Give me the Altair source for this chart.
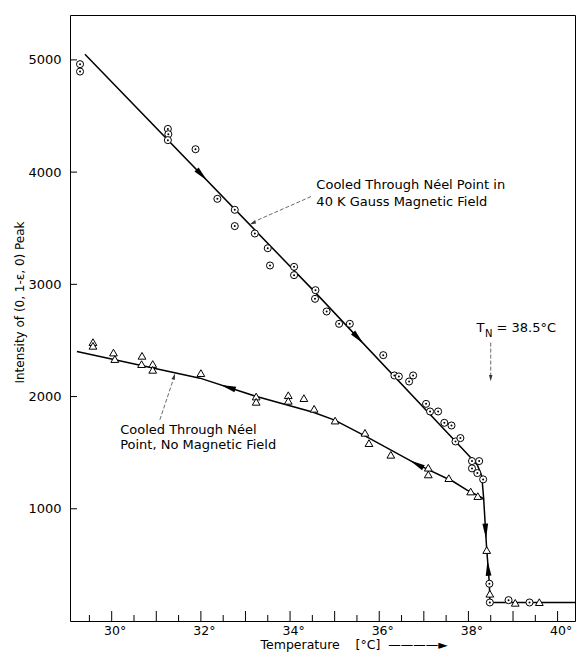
import altair as alt
import pandas as pd

# ---- data ----
# cooled through Neel point in 40 kG field (circles with dot)
field_T = [29.29, 29.29, 31.26, 31.27, 31.26, 31.88, 32.37, 32.76, 32.76, 33.21,
           33.50, 33.55, 34.09, 34.09, 34.57, 34.56, 34.82, 35.10, 35.34, 36.09,
           36.34, 36.44, 36.76, 36.67, 37.05, 37.14, 37.32, 37.46, 37.62, 37.71,
           37.82, 38.08, 38.24, 38.08, 38.20, 38.33, 38.47, 38.48, 38.90, 39.37]
field_I = [4962, 4896, 4385, 4338, 4285, 4204, 3762, 3664, 3519, 3453,
           3322, 3168, 3156, 3082, 2948, 2871, 2758, 2648, 2648, 2369,
           2188, 2179, 2188, 2134, 1935, 1867, 1867, 1766, 1742, 1600,
           1630, 1425, 1425, 1360, 1318, 1262, 332, 165, 186, 165]

# cooled through Neel point, no field (triangles)
zero_T = [29.58, 29.58, 30.04, 30.07, 30.68, 30.67, 30.92, 30.92, 32.00, 33.24,
          33.24, 33.96, 33.96, 34.31, 34.54, 35.01, 35.68, 35.77, 36.26, 37.10,
          37.10, 37.56, 38.05, 38.21, 38.41, 38.48, 39.05, 39.59]
zero_I = [2485, 2452, 2392, 2334, 2363, 2289, 2290, 2238, 2209, 2000,
          1953, 2012, 1962, 1986, 1891, 1786, 1677, 1585, 1481, 1366,
          1306, 1273, 1154, 1113, 632, 243, 162, 168]

# drawn curves
field_curve_T = [29.40, 34.50, 37.95, 38.20, 38.30, 38.34, 38.41, 38.47, 38.48, 40.39]
field_curve_I = [5050, 2955, 1500, 1390, 1290, 1100, 640, 332, 165, 165]
zero_curve_T = [29.22, 31.98, 33.25, 34.52, 35.00, 35.70, 36.84, 37.66, 37.96, 38.30, 38.345]
zero_curve_I = [2401, 2164, 2000, 1860, 1790, 1645, 1398, 1243, 1169, 1100, 1080]

# direction arrowheads on the curves
arrow_T = [32.02, 35.53, 38.386, 32.61, 36.84, 38.44]
arrow_I = [3974, 2521, 800, 2083, 1398, 470]
arrow_angle = [46, 47, 87, 198, 208, 266]

# annotation leaders
leader_id = [1, 1, 2, 2, 3, 3]
leader_T = [34.47, 33.20, 31.08, 31.38, 38.50, 38.50]
leader_I = [3782, 3560, 1793, 2150, 2481, 2190]
leader_tip_T = [33.16, 31.40, 38.50]
leader_tip_I = [3545, 2179, 2165]
leader_tip_angle = [155, 288, 90]

# annotation texts
note_text = ["Cooled Through Néel Point in", "40 K Gauss Magnetic Field",
             "Cooled Through Néel", "Point, No Magnetic Field",
             "T", "= 38.5°C"]
note_T = [34.59, 34.59, 30.19, 30.19, 38.18, 38.63]
note_I = [3886, 3738, 1704, 1570, 2612, 2612]
sub_text = ["N"]
sub_T = [38.37]
sub_I = [2560]

# axis ticks
x_major = [30, 31, 32, 33, 34, 35, 36, 37, 38, 39, 40]
x_minor = [29.5, 30.5, 31.5, 32.5, 33.5, 34.5, 35.5, 36.5, 37.5, 38.5, 39.5]
x_labels = [30, 32, 34, 36, 38, 40]
y_major = [1000, 2000, 3000, 4000, 5000]

W, H = 505, 606
FONT = "DejaVu Sans"
NB = "\u00a0"
x_title = "Temperature" + NB * 4 + "[°C]" + NB * 2 + "————►"

xaxis = alt.Axis(values=x_labels, labelExpr="datum.value + '°'", ticks=False, domain=False,
                 grid=False, labelFont=FONT, labelFontSize=12.5, labelColor="black",
                 labelPadding=3, labelOffset=3,
                 title=x_title, titleFont=FONT, titleFontSize=12.5,
                 titleFontWeight="normal", titleColor="black", titleX=190, titleY=23,
                 titleAlign="left", titleBaseline="middle")
yaxis = alt.Axis(values=y_major, format="d", ticks=False, domain=False, grid=False,
                 labelFont=FONT, labelFontSize=13, labelColor="black", labelPadding=9,
                 title="Intensity of (0, 1-ε, 0) Peak", titleFont=FONT, titleFontSize=12,
                 titleFontWeight="normal", titleColor="black", titleX=-51, titleY=287,
                 titleAngle=270, titleAlign="center", titleBaseline="middle")

X = alt.X("T:Q", scale=alt.Scale(domain=[29.065, 40.39], nice=False, zero=False), axis=xaxis)
Y = alt.Y("I:Q", scale=alt.Scale(domain=[0, 5400], nice=False, zero=False), axis=yaxis)

df_field = pd.DataFrame({"T": field_T, "I": field_I})
df_zero = pd.DataFrame({"T": zero_T, "I": zero_I})
df_fc = pd.DataFrame({"T": field_curve_T, "I": field_curve_I, "k": range(len(field_curve_T))})
df_zc = pd.DataFrame({"T": zero_curve_T, "I": zero_curve_I, "k": range(len(zero_curve_T))})
df_arrow = pd.DataFrame({"T": arrow_T, "I": arrow_I, "a": arrow_angle})
df_lead = pd.DataFrame({"T": leader_T, "I": leader_I, "g": leader_id, "k": range(len(leader_T))})
df_tip = pd.DataFrame({"T": leader_tip_T, "I": leader_tip_I, "a": leader_tip_angle})
df_note = pd.DataFrame({"T": note_T, "I": note_I, "s": note_text})
df_sub = pd.DataFrame({"T": sub_T, "I": sub_I, "s": sub_text})
df_xmaj = pd.DataFrame({"T": x_major})
df_xmin = pd.DataFrame({"T": x_minor})
df_ymaj = pd.DataFrame({"I": y_major})

ARROW = "M1,0L-1,-0.38L-1,0.38Z"
TIP = "M1,0L-1,-0.55L-1,0.55Z"

xmaj = alt.Chart(df_xmaj).mark_rule(color="black", strokeWidth=1).encode(
    x=X, y=alt.value(H), y2=alt.value(H - 10))
xmin = alt.Chart(df_xmin).mark_rule(color="black", strokeWidth=1).encode(
    x=X, y=alt.value(H), y2=alt.value(H - 6))
ymaj = alt.Chart(df_ymaj).mark_rule(color="black", strokeWidth=1).encode(
    y=Y, x=alt.value(0), x2=alt.value(7))

fc_line = alt.Chart(df_fc).mark_line(color="black", strokeWidth=1.5).encode(x=X, y=Y, order="k:Q")
zc_line = alt.Chart(df_zc).mark_line(color="black", strokeWidth=1.5).encode(x=X, y=Y, order="k:Q")
leads = alt.Chart(df_lead).mark_line(color="#444", strokeWidth=0.8, strokeDash=[4, 2]).encode(
    x=X, y=Y, detail="g:N", order="k:Q")
tips = alt.Chart(df_tip).mark_point(shape=TIP, filled=True, color="#333", opacity=1, size=40).encode(
    x=X, y=Y, angle=alt.Angle("a:Q", scale=None))
arrows = alt.Chart(df_arrow).mark_point(shape=ARROW, filled=True, color="black", opacity=1, size=230).encode(
    x=X, y=Y, angle=alt.Angle("a:Q", scale=None))

circles = alt.Chart(df_field).mark_point(shape="circle", filled=True, fill="white", stroke="black",
                                         strokeWidth=1, size=50, opacity=1).encode(x=X, y=Y)
dots = alt.Chart(df_field).mark_circle(color="black", size=4, opacity=1).encode(x=X, y=Y)
tris = alt.Chart(df_zero).mark_point(shape="triangle-up", filled=True, fill="white", stroke="black",
                                     strokeWidth=1, size=60, opacity=1).encode(x=X, y=Y)

notes = alt.Chart(df_note).mark_text(align="left", baseline="middle", font=FONT, fontSize=13,
                                     color="black").encode(x=X, y=Y, text="s:N")
subs = alt.Chart(df_sub).mark_text(align="left", baseline="middle", font=FONT, fontSize=10,
                                   color="black").encode(x=X, y=Y, text="s:N")

chart = alt.layer(
    xmaj, xmin, ymaj, fc_line, zc_line, leads, tips, arrows, circles, dots, tris, notes, subs
).properties(
    width=W, height=H,
    autosize=alt.AutoSizeParams(type="none"),
    padding={"left": 62, "top": 7, "right": 1, "bottom": 31},
    background="white",
).configure_view(stroke="black", strokeWidth=1)

chart.save("out.html", embed_options={"renderer": "svg", "actions": False})
